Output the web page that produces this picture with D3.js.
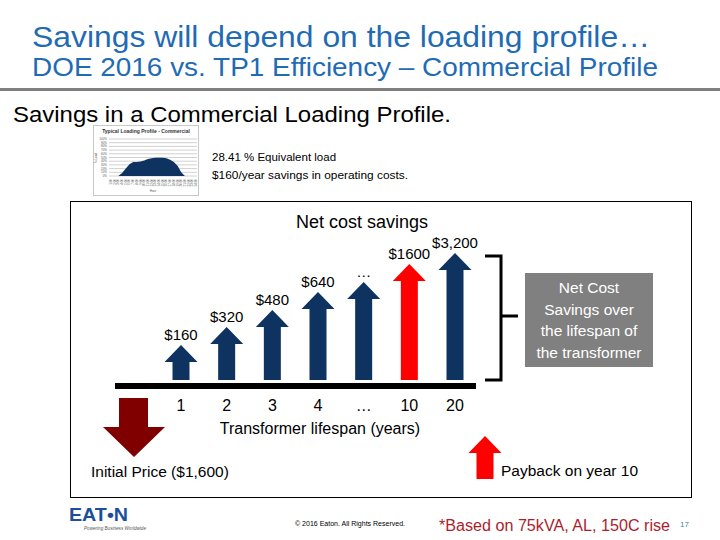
<!DOCTYPE html>
<html>
<head>
	<meta charset="utf-8">
	<script src="https://d3js.org/d3.v7.min.js"></script>
	<style type="text/css">
		body { margin: 0; background: #fff; }
		text { font-family: "Liberation Sans", Arial, sans-serif; }
	</style>
</head>
<body>
	<script type="text/javascript">
		// chart values
		var years = ['1', '2', '3', '4', '\u2026', '10', '20'];
		var savingsLabels = ['$160', '$320', '$480', '$640', '\u2026', '$1600', '$3,200'];
		// arrow heights are schematic on the slide, so these are relative units
		var arrowLevel = [35, 53, 70, 88, 98, 116, 127];
		var paybackYear = '10';

		// little loading profile thumbnail (share of rating, by hour)
		var profileHours = ['1','2','3','4','5','6','7','8','9','10','11','12','13','14','15','16','17','18','19','20','21','22','23','24'];
		var profileLoad = [0, 0, 0, 0.08, 0.2, 0.32, 0.38, 0.38, 0.39, 0.42, 0.46, 0.48, 0.49, 0.49, 0.49, 0.48, 0.44, 0.38, 0.28, 0.1, 0, 0, 0, 0];
		var profileTicks = [0, 0.1, 0.2, 0.3, 0.4, 0.5, 0.6, 0.7, 0.8, 0.9, 1];

		var navy = '#0f3360',
			red = '#ff0000',
			darkRed = '#800000',
			blue = '#1f6bb4';

		var svg = d3.select('body')
			.append('svg')
				.attr('width', 720)
				.attr('height', 540);

		svg.append('rect')
			.attr('width', 720)
			.attr('height', 540)
			.attr('fill', '#fff');

		/** Header **/
		svg.append('text')
			.attr('x', 32).attr('y', 47)
			.attr('font-size', 30)
			.attr('textLength', 618).attr('lengthAdjust', 'spacingAndGlyphs')
			.attr('fill', blue)
			.text('Savings will depend on the loading profile\u2026');

		svg.append('text')
			.attr('x', 32).attr('y', 76)
			.attr('font-size', 25)
			.attr('textLength', 626).attr('lengthAdjust', 'spacingAndGlyphs')
			.attr('fill', blue)
			.text('DOE 2016 vs. TP1 Efficiency \u2013 Commercial Profile');

		svg.append('rect')
			.attr('x', 0).attr('y', 88)
			.attr('width', 720).attr('height', 3)
			.attr('fill', '#7f7f7f');

		svg.append('text')
			.attr('x', 13).attr('y', 122)
			.attr('font-size', 22)
			.attr('textLength', 438).attr('lengthAdjust', 'spacingAndGlyphs')
			.attr('fill', '#000')
			.text('Savings in a Commercial Loading Profile.');

		/** Thumbnail of the loading profile **/
		var thumb = svg.append('g');
		thumb.append('rect')
			.attr('x', 93.5).attr('y', 125.5)
			.attr('width', 105).attr('height', 70)
			.attr('fill', '#fff')
			.attr('stroke', '#c8c8c8');

		thumb.append('text')
			.attr('x', 146).attr('y', 133)
			.attr('text-anchor', 'middle')
			.attr('font-size', 5).attr('font-weight', 'bold')
			.attr('fill', '#333')
			.text('Typical Loading Profile - Commercial');

		var tx = d3.scalePoint().domain(profileHours).range([111, 196]),
			ty = d3.scaleLinear().domain([0, 1]).range([176, 139]);

		thumb.selectAll('.grid')
			.data(profileTicks).enter()
			.append('line')
				.attr('class', 'grid')
				.attr('x1', 109).attr('x2', 197)
				.attr('y1', function(d) { return ty(d); })
				.attr('y2', function(d) { return ty(d); })
				.attr('stroke', '#bdbdbd')
				.attr('stroke-width', 0.7);

		thumb.selectAll('.ylab')
			.data(profileTicks).enter()
			.append('text')
				.attr('class', 'ylab')
				.attr('x', 107)
				.attr('y', function(d) { return ty(d) + 1; })
				.attr('text-anchor', 'end')
				.attr('font-size', 3)
				.attr('fill', '#555')
				.text(function(d) { return Math.round(d * 100) + '%'; });

		thumb.append('text')
			.attr('transform', 'translate(97,158) rotate(-90)')
			.attr('text-anchor', 'middle')
			.attr('font-size', 3)
			.attr('fill', '#555')
			.text('% Load');

		thumb.append('path')
			.datum(profileLoad)
			.attr('fill', navy)
			.attr('d', d3.area()
				.x(function(d, i) { return tx(profileHours[i]); })
				.y0(ty(0))
				.y1(function(d) { return ty(d); }));

		thumb.selectAll('.xlab')
			.data(profileHours).enter()
			.append('text')
				.attr('class', 'xlab')
				.attr('transform', function(d) { return 'translate(' + (tx(d) + 1) + ',179) rotate(-90)'; })
				.attr('text-anchor', 'end')
				.attr('font-size', 3)
				.attr('fill', '#555')
				.text(function(d) { return d + ':00'; });

		thumb.append('text')
			.attr('x', 153).attr('y', 192)
			.attr('text-anchor', 'middle')
			.attr('font-size', 3)
			.attr('fill', '#555')
			.text('Hour');

		svg.append('text')
			.attr('x', 212).attr('y', 161)
			.attr('font-size', 11.5)
			.attr('fill', '#000')
			.text('28.41 % Equivalent load');

		svg.append('text')
			.attr('x', 212).attr('y', 179)
			.attr('font-size', 11.5)
			.attr('textLength', 196).attr('lengthAdjust', 'spacingAndGlyphs')
			.attr('fill', '#000')
			.text('$160/year savings in operating costs.');

		/** Net cost savings panel **/
		svg.append('rect')
			.attr('x', 70.5).attr('y', 201.5)
			.attr('width', 621).attr('height', 296)
			.attr('fill', 'none')
			.attr('stroke', '#000');

		svg.append('text')
			.attr('x', 362).attr('y', 228)
			.attr('text-anchor', 'middle')
			.attr('font-size', 18)
			.attr('fill', '#000')
			.text('Net cost savings');

		var x = d3.scalePoint().domain(years).range([181, 455]),
			y = d3.scaleLinear().domain([0, 130]).range([380, 250]);

		function upArrow(cx, yBase, yTip, shaftW, headW, headH) {
			var p = d3.path();
			p.moveTo(cx - shaftW / 2, yBase);
			p.lineTo(cx - shaftW / 2, yTip + headH);
			p.lineTo(cx - headW / 2, yTip + headH);
			p.lineTo(cx, yTip);
			p.lineTo(cx + headW / 2, yTip + headH);
			p.lineTo(cx + shaftW / 2, yTip + headH);
			p.lineTo(cx + shaftW / 2, yBase);
			p.closePath();
			return p.toString();
		}

		svg.selectAll('.arrow')
			.data(years).enter()
			.append('path')
				.attr('class', 'arrow')
				.attr('d', function(d, i) { return upArrow(x(d), y(0), y(arrowLevel[i]), 17, 33, 17); })
				.attr('fill', function(d) { return d === paybackYear ? red : navy; });

		svg.selectAll('.value')
			.data(years).enter()
			.append('text')
				.attr('class', 'value')
				.attr('x', function(d) { return x(d); })
				.attr('y', function(d, i) { return y(arrowLevel[i]) - 5; })
				.attr('text-anchor', 'middle')
				.attr('font-size', 15)
				.attr('fill', '#000')
				.text(function(d, i) { return savingsLabels[i]; });

		// time axis as a heavy bar
		svg.append('rect')
			.attr('x', 115).attr('y', 383)
			.attr('width', 361).attr('height', 6)
			.attr('fill', '#000');

		svg.selectAll('.tick')
			.data(years).enter()
			.append('text')
				.attr('class', 'tick')
				.attr('x', function(d) { return x(d); })
				.attr('y', 411)
				.attr('text-anchor', 'middle')
				.attr('font-size', 16)
				.attr('fill', '#000')
				.text(function(d) { return d; });

		svg.append('text')
			.attr('x', 320).attr('y', 434)
			.attr('text-anchor', 'middle')
			.attr('font-size', 16)
			.attr('fill', '#000')
			.text('Transformer lifespan (years)');

		// bracket over the lifespan
		svg.append('path')
			.attr('d', 'M485,256 H501 V380 H485 M501,316 H518')
			.attr('fill', 'none')
			.attr('stroke', '#000')
			.attr('stroke-width', 3);

		svg.append('rect')
			.attr('x', 525).attr('y', 273)
			.attr('width', 128).attr('height', 94)
			.attr('fill', '#808080');

		svg.append('text')
			.attr('x', 589).attr('y', 293)
			.attr('text-anchor', 'middle')
			.attr('font-size', 15.5)
			.attr('fill', '#fff')
			.selectAll('tspan')
				.data(['Net Cost', 'Savings over', 'the lifespan of', 'the transformer']).enter()
			.append('tspan')
				.attr('x', 589)
				.attr('dy', function(d, i) { return i ? 21.7 : 0; })
				.text(function(d) { return d; });

		// initial price, downward arrow
		svg.append('path')
			.attr('d', 'M119,398 H148 V427 H165 L134,457 L103,427 H119 Z')
			.attr('fill', darkRed);

		svg.append('text')
			.attr('x', 91).attr('y', 477)
			.attr('font-size', 15.5)
			.attr('fill', '#000')
			.text('Initial Price ($1,600)');

		// payback legend
		svg.append('path')
			.attr('d', upArrow(485, 479, 436, 17, 33, 17))
			.attr('fill', red);

		svg.append('text')
			.attr('x', 501).attr('y', 476)
			.attr('font-size', 15.5)
			.attr('fill', '#000')
			.text('Payback on year 10');

		/** Footer **/
		svg.append('text')
			.attr('x', 69).attr('y', 521)
			.attr('font-size', 19).attr('font-weight', 'bold')
			.attr('textLength', 59).attr('lengthAdjust', 'spacingAndGlyphs')
			.attr('fill', '#1b4f9c')
			.text('EAT\u2022N');

		svg.append('text')
			.attr('x', 84).attr('y', 530)
			.attr('font-size', 6).attr('font-style', 'italic')
			.attr('textLength', 62).attr('lengthAdjust', 'spacingAndGlyphs')
			.attr('fill', '#555')
			.text('Powering Business Worldwide');

		svg.append('text')
			.attr('x', 295).attr('y', 526)
			.attr('font-size', 6.5)
			.attr('textLength', 110).attr('lengthAdjust', 'spacingAndGlyphs')
			.attr('fill', '#000')
			.text('\u00a9 2016 Eaton. All Rights Reserved.');

		svg.append('text')
			.attr('x', 439).attr('y', 531)
			.attr('font-size', 16)
			.attr('textLength', 231).attr('lengthAdjust', 'spacingAndGlyphs')
			.attr('fill', '#ad1d2c')
			.text('*Based on 75kVA, AL, 150C rise');

		svg.append('text')
			.attr('x', 680).attr('y', 527)
			.attr('font-size', 8)
			.attr('fill', '#4f7fb8')
			.text('17');
	</script>
</body>
</html>
